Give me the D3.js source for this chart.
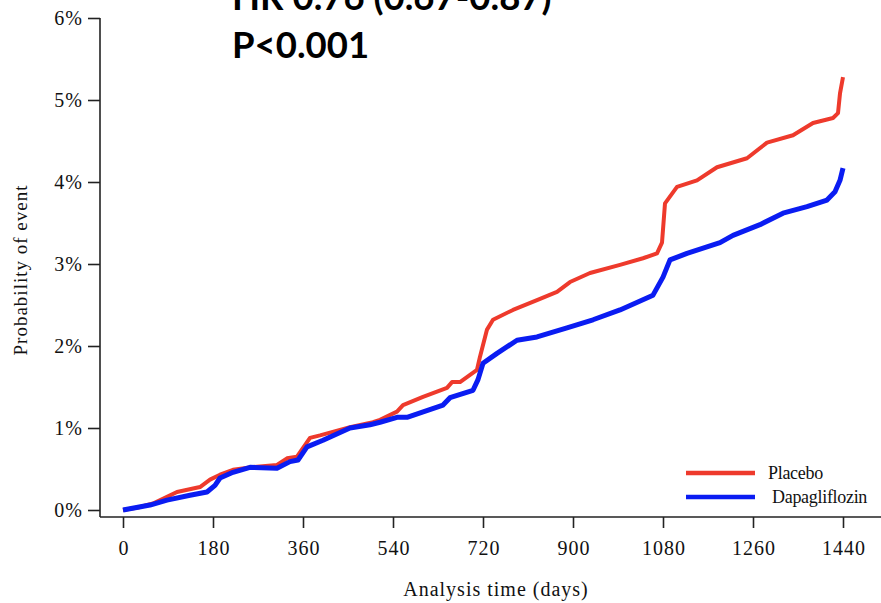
<!DOCTYPE html>
<html>
<head>
<meta charset="utf-8">
<script src="https://cdn.jsdelivr.net/npm/d3@7"></script>
<style>
  html, body { margin: 0; padding: 0; background: #fff; }
  svg { display: block; }
  .tick text { font-family: "Liberation Serif", "DejaVu Serif", serif; fill: #111; }
</style>
</head>
<body>
<svg id="chart" width="881" height="603"></svg>
<script>
// Cumulative probability of event (%) by analysis time (days)
const placeboDays = [0, 30, 60, 88, 108, 154, 174, 194, 220, 254, 308, 328, 348, 374, 394, 454, 500, 514, 548, 560, 600, 648, 658, 674, 708, 714, 728, 740, 780, 828, 868, 894, 934, 994, 1040, 1068, 1078, 1084, 1108, 1148, 1188, 1248, 1288, 1340, 1380, 1420, 1430, 1434, 1440];
const placeboProb = [0, 0.03, 0.08, 0.16, 0.22, 0.28, 0.37, 0.43, 0.49, 0.52, 0.55, 0.63, 0.65, 0.88, 0.91, 1.01, 1.07, 1.10, 1.20, 1.28, 1.38, 1.49, 1.56, 1.56, 1.71, 1.87, 2.20, 2.32, 2.44, 2.56, 2.66, 2.78, 2.89, 2.99, 3.07, 3.13, 3.26, 3.74, 3.94, 4.02, 4.18, 4.29, 4.48, 4.57, 4.72, 4.78, 4.84, 5.08, 5.28];

const dapaDays = [0, 54, 88, 134, 168, 184, 194, 220, 254, 308, 334, 350, 368, 400, 454, 494, 514, 548, 568, 640, 654, 700, 710, 720, 748, 788, 828, 888, 940, 994, 1060, 1080, 1094, 1128, 1194, 1220, 1274, 1320, 1368, 1408, 1424, 1434, 1440];
const dapaProb = [0, 0.06, 0.12, 0.18, 0.22, 0.30, 0.39, 0.46, 0.52, 0.51, 0.59, 0.61, 0.77, 0.85, 1.00, 1.04, 1.07, 1.13, 1.13, 1.28, 1.37, 1.46, 1.59, 1.79, 1.91, 2.07, 2.11, 2.22, 2.32, 2.44, 2.62, 2.84, 3.05, 3.13, 3.26, 3.35, 3.48, 3.62, 3.70, 3.78, 3.88, 4.02, 4.17];

const xTicks = [0, 180, 360, 540, 720, 900, 1080, 1260, 1440];
const yTicks = [0, 1, 2, 3, 4, 5, 6];

const seriesNames = ["Placebo", "Dapagliflozin"];
const seriesColors = ["#ee3a2c", "#0a1cf2"];

const annotationLines = ["HR 0.76 (0.67-0.87)", "P<0.001"];
const xTitle = "Analysis time (days)";
const yTitle = "Probability of event";

const svg = d3.select("#chart");
const serif = "Liberation Serif, DejaVu Serif, serif";

// Plot frame
const axisX = 100;   // left axis position
const axisY = 517;   // bottom axis position
const x = d3.scaleLinear().domain([0, 1440]).range([123, 843]);
const y = d3.scaleLinear().domain([0, 6]).range([510, 18]);

const axisColor = "#222";

// Axis frame lines
svg.append("line")
  .attr("x1", axisX).attr("x2", axisX)
  .attr("y1", y(6)).attr("y2", axisY)
  .attr("stroke", axisColor).attr("stroke-width", 1.6);
svg.append("line")
  .attr("x1", axisX).attr("x2", 881)
  .attr("y1", axisY).attr("y2", axisY)
  .attr("stroke", axisColor).attr("stroke-width", 1.6);

// X axis ticks
const gx = svg.append("g")
  .attr("transform", `translate(0,${axisY})`)
  .call(d3.axisBottom(x).tickValues(xTicks).tickFormat(d3.format("d"))
    .tickSize(11).tickPadding(13).tickSizeOuter(0));
gx.select(".domain").remove();
gx.selectAll(".tick line").attr("stroke", axisColor).attr("stroke-width", 1.6);
gx.selectAll(".tick text")
  .attr("font-size", 20)
  .attr("letter-spacing", 1)
  .attr("dx", 0.5);

// Y axis ticks
const gy = svg.append("g")
  .attr("transform", `translate(${axisX},0)`)
  .call(d3.axisLeft(y).tickValues(yTicks).tickSize(12).tickPadding(5)
    .tickFormat(d => d + "%").tickSizeOuter(0));
gy.select(".domain").remove();
gy.selectAll(".tick line").attr("stroke", axisColor).attr("stroke-width", 1.6);
gy.selectAll(".tick text")
  .attr("font-size", 20)
  .attr("letter-spacing", 1);

// Axis titles
svg.append("text")
  .attr("x", (x(0) + x(1440)) / 2 + 13)
  .attr("y", 596)
  .attr("text-anchor", "middle")
  .attr("font-family", serif)
  .attr("font-size", 20)
  .attr("letter-spacing", 1)
  .attr("fill", "#111")
  .text(xTitle);

svg.append("text")
  .attr("transform", `translate(27,${y(3) + 6}) rotate(-90)`)
  .attr("text-anchor", "middle")
  .attr("font-family", serif)
  .attr("font-size", 19)
  .attr("letter-spacing", 1)
  .attr("fill", "#111")
  .text(yTitle);

// Curves
const line = d3.line()
  .x(d => x(d[0]))
  .y(d => y(d[1]))
  .curve(d3.curveLinear);

const series = [
  d3.zip(placeboDays, placeboProb),
  d3.zip(dapaDays, dapaProb)
];
const widths = [4, 5];

series.forEach((pts, i) => {
  svg.append("path")
    .datum(pts)
    .attr("d", line)
    .attr("fill", "none")
    .attr("stroke", seriesColors[i])
    .attr("stroke-width", widths[i])
    .attr("stroke-linejoin", "round");
});

// Legend
const legend = svg.append("g");
const legendRows = [473, 497];
const legendTextX = [768, 772];
seriesNames.forEach((name, i) => {
  legend.append("line")
    .attr("x1", 686).attr("x2", 755)
    .attr("y1", legendRows[i]).attr("y2", legendRows[i])
    .attr("stroke", seriesColors[i])
    .attr("stroke-width", 4.5);
  legend.append("text")
    .attr("x", legendTextX[i])
    .attr("y", legendRows[i] + 6)
    .attr("font-family", serif)
    .attr("font-size", 18)
    .attr("letter-spacing", -0.3)
    .attr("fill", "#111")
    .text(name);
});

// Hazard ratio annotation
annotationLines.forEach((t, i) => {
  svg.append("text")
    .attr("x", 232)
    .attr("y", 10 + i * 48)
    .attr("font-family", "Lato, Open Sans, sans-serif")
    .attr("font-weight", "bold")
    .attr("font-size", 36.5)
    .attr("fill", "#000")
    .text(t);
});
</script>
</body>
</html>
